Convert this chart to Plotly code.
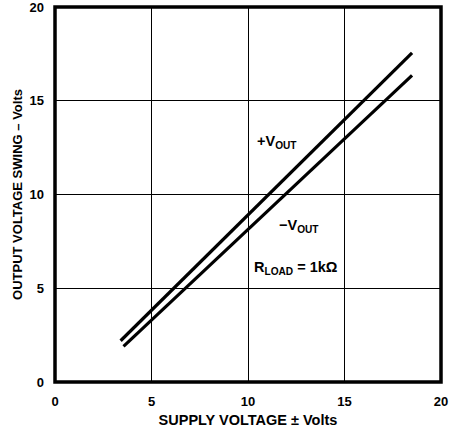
import plotly.graph_objects as go

# Output voltage swing vs. supply voltage (R_LOAD = 1kΩ)
supply_pos = [3.4, 18.5]
vout_pos = [2.2, 17.55]
supply_neg = [3.55, 18.5]
vout_neg = [1.9, 16.35]

tick_vals = [0, 5, 10, 15, 20]
tick_text = ["0", "5", "10", "15", "20"]

FONT = "Liberation Sans, Arial, sans-serif"

fig = go.Figure()
fig.add_trace(go.Scatter(x=supply_pos, y=vout_pos, mode="lines",
                         line=dict(color="black", width=3.2), name="+VOUT"))
fig.add_trace(go.Scatter(x=supply_neg, y=vout_neg, mode="lines",
                         line=dict(color="black", width=3.2), name="-VOUT"))

axis_common = dict(
    range=[0, 20], tickvals=tick_vals, ticktext=tick_text,
    showgrid=True, gridcolor="black", gridwidth=1,
    zeroline=False, showline=False, ticks="", automargin=False,
    ticklabeloverflow="allow",
    tickfont=dict(family=FONT, size=13, color="black", weight="bold"),
)

fig.update_xaxes(**axis_common, ticklabelstandoff=10,
                 title=dict(text="SUPPLY VOLTAGE ± Volts",
                            font=dict(family=FONT, size=14.5, color="black",
                                      weight="bold"),
                            standoff=6))
fig.update_yaxes(**axis_common, ticklabelstandoff=10,
                 title=dict(text="OUTPUT VOLTAGE SWING – Volts",
                            font=dict(family=FONT, size=13, color="black",
                                      weight="bold"),
                            standoff=3))

# Heavy frame around the plotting area
fig.add_shape(type="rect", xref="paper", yref="paper", x0=0, y0=0, x1=1, y1=1,
              line=dict(color="black", width=3.5))

labels = [
    (10.35, 12.8, "+V<sub>OUT</sub>"),
    (11.5, 8.3, "−V<sub>OUT</sub>"),
    (10.2, 6.1, "R<sub>LOAD</sub> = 1kΩ"),
]
for x, y, t in labels:
    fig.add_annotation(x=x, y=y, text=t, showarrow=False, xanchor="left",
                       yanchor="middle",
                       font=dict(family=FONT, size=14.5, color="black",
                                 weight="bold"))

fig.update_layout(
    width=449, height=435,
    margin=dict(l=55, r=8, t=7, b=53),
    plot_bgcolor="white", paper_bgcolor="white",
    showlegend=False,
)

fig.write_html("out.html")
